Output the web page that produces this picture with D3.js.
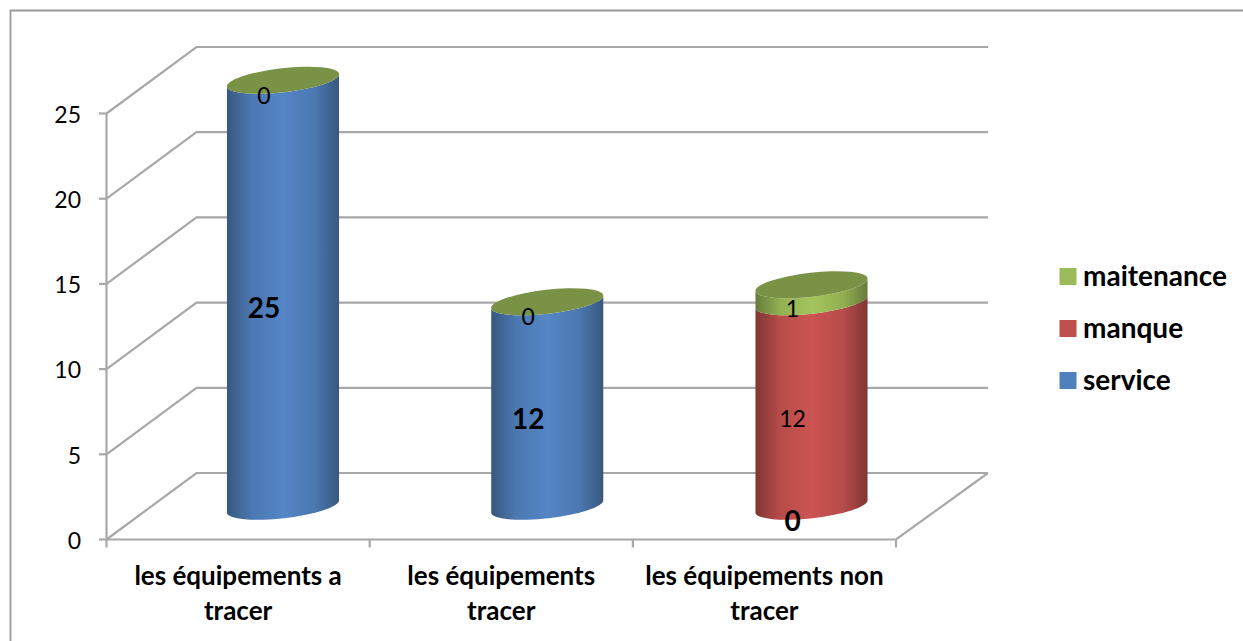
<!DOCTYPE html>
<html>
<head>
<meta charset="utf-8">
<script src="https://cdn.jsdelivr.net/npm/d3@7"></script>
<style>
  html, body { margin: 0; padding: 0; background: #fff; }
  svg { display: block; }
  text { font-family: Lato, "Open Sans", sans-serif; fill: #000; }
</style>
</head>
<body>
<svg id="chart" width="1243" height="641"></svg>
<script>
const categories = [["les équipements a", "tracer"], ["les équipements", "tracer"], ["les équipements non", "tracer"]];
const seriesNames = ["service", "manque", "maitenance"];
const service = [25, 12, 0];
const manque = [0, 0, 12];
const maitenance = [0, 0, 1];
const yTicks = [0, 5, 10, 15, 20, 25];
const legendOrder = ["maitenance", "manque", "service"];
const baseColors = { service: "#4f81bd", manque: "#c0504d", maitenance: "#9bbb59" };
const midColors = { service: "#5485c5", manque: "#cc5452", maitenance: "#a3c45c" };
const edgeColors = { service: "#37587f", manque: "#803634", maitenance: "#667c3a" };
const capColor = "#7a9246";
const grey = "#a8a8a8";

const svg = d3.select("#chart");
const x = d3.scaleBand().domain([0, 1, 2]).range([106.5, 896]);
const y = d3.scaleLinear().domain([0, 25]).range([539.5, 113.5]);
const barX = d3.scalePoint().domain([0, 1, 2]).range([283, 811.5]);

// Oblique projection of the 3D box
const depthX = 90, depthY = -66.5;
const barRx = 56.4, barRy = 12, tilt = -6.5;
const tiltDx = barRx * Math.cos(tilt * Math.PI / 180);
const tiltDy = barRx * Math.sin(tilt * Math.PI / 180);
const cy = v => y(v) + depthY / 2;

// Chart frame: top and left edges only
svg.append("path")
  .attr("d", "M10.5,641V10.5H1243")
  .attr("fill", "none").attr("stroke", "#9a9a9a").attr("stroke-width", 1.8);

// Horizontal cylinder shading for each series
const defs = svg.append("defs");
seriesNames.forEach(name => {
  const grad = defs.append("linearGradient").attr("id", "shade-" + name);
  [[0, edgeColors[name]], [0.22, d3.interpolateRgb(edgeColors[name], midColors[name])(0.72)],
   [0.5, midColors[name]], [0.78, d3.interpolateRgb(edgeColors[name], midColors[name])(0.72)],
   [1, edgeColors[name]]].forEach(([o, c]) => grad.append("stop").attr("offset", o).attr("stop-color", c));
});

// Wall and floor gridlines
const wall = svg.append("g").attr("fill", "none").attr("stroke", grey).attr("stroke-width", 2.2);
yTicks.forEach(t => {
  wall.append("path").attr("d", d3.line()([
    [x.range()[0], y(t)],
    [x.range()[0] + depthX, y(t) + depthY],
    [x.range()[1] + depthX + 2, y(t) + depthY]
  ]));
});
wall.append("path").attr("d", d3.line()([
  [x.range()[0], y(25)], [x.range()[0], y(0)], [x.range()[1], y(0)],
  [x.range()[1] + depthX + 2, y(0) + depthY]
]));

// Axis ticks and labels
yTicks.forEach(t => {
  wall.append("line").attr("x1", 99).attr("x2", x.range()[0]).attr("y1", y(t)).attr("y2", y(t));
  svg.append("text").attr("x", 81).attr("y", y(t) + 1).attr("dy", "0.36em")
    .attr("text-anchor", "end").attr("font-size", 23).text(t);
});
[0, 1, 2, 3].forEach(i => {
  const px = x.range()[0] + i * x.step();
  wall.append("line").attr("x1", px).attr("x2", px).attr("y1", y(0)).attr("y2", y(0) + 8);
});
categories.forEach((lines, i) => {
  const label = svg.append("text").attr("text-anchor", "middle")
    .attr("font-size", 26).attr("font-weight", 700);
  lines.forEach((line, k) => {
    label.append("tspan").attr("x", x(i) + x.bandwidth() / 2).attr("y", 585 + k * 35).text(line);
  });
});

// Stacked cylinders, bottom segment first
const arcTo = (px, py, sweep) => `A${barRx},${barRy} ${tilt} 0 ${sweep} ${px},${py}`;
const stacked = { service, manque, maitenance };
categories.forEach((_, i) => {
  let total = 0;
  seriesNames.forEach(name => {
    const v = stacked[name][i];
    const y0 = cy(total), y1 = cy(total + v);
    const c = barX(i);
    if (v > 0) {
      svg.append("path")
        .attr("d", `M${c - tiltDx},${y1 - tiltDy}L${c - tiltDx},${y0 - tiltDy}` +
          arcTo(c + tiltDx, y0 + tiltDy, 0) +
          `L${c + tiltDx},${y1 + tiltDy}` + arcTo(c - tiltDx, y1 - tiltDy, 1) + "Z")
        .attr("fill", `url(#shade-${name})`);
    }
    total += v;
  });
  // Closing cap in the colour of the last series of the stack
  svg.append("ellipse")
    .attr("cx", 0).attr("cy", 0).attr("rx", barRx).attr("ry", barRy)
    .attr("transform", `translate(${barX(i)},${cy(total)}) rotate(${tilt})`)
    .attr("fill", capColor);
});

// Value labels sit below and left of each segment's middle
categories.forEach((_, i) => {
  let total = 0;
  seriesNames.forEach(name => {
    const v = stacked[name][i];
    const bold = name === "service";
    if (name !== "manque" || v > 0) {
      svg.append("text")
        .attr("x", barX(i) - 19).attr("y", cy(total + v / 2) + 15).attr("dy", "0.36em")
        .attr("text-anchor", "middle")
        .attr("font-size", bold ? 28 : 23).attr("font-weight", bold ? 700 : 400)
        .text(v);
    }
    total += v;
  });
});

// Legend
legendOrder.forEach((name, k) => {
  const ly = 267 + k * 52;
  svg.append("rect").attr("x", 1059.5).attr("y", ly + 1).attr("width", 17).attr("height", 17)
    .attr("fill", baseColors[name]);
  svg.append("text").attr("x", 1083).attr("y", ly + 8.5).attr("dy", "0.36em")
    .attr("font-size", 28).attr("font-weight", 700).text(name);
});
</script>
</body>
</html>
